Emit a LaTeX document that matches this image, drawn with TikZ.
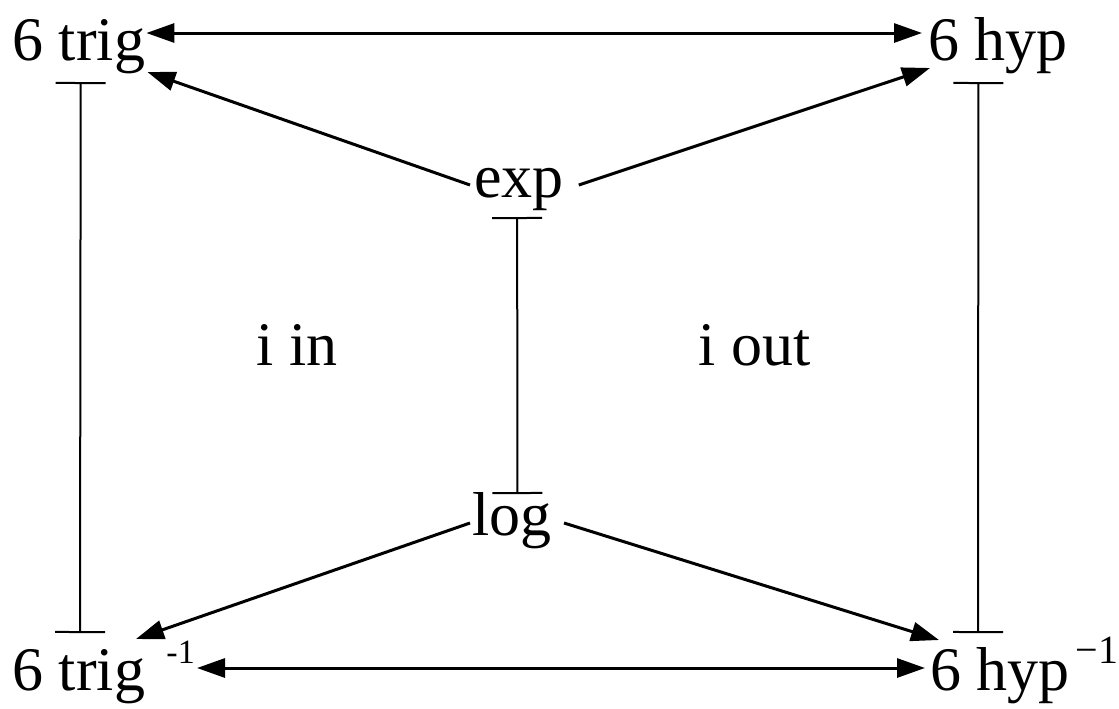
\documentclass[tikz,border=0pt]{standalone}
\usepackage{fontspec}
\setmainfont{Liberation Serif}
\usepackage{tikz}
\usetikzlibrary{arrows.meta, calc}

\newcommand{\upidx}[2]{\raisebox{13.5pt}{\fontsize{#1}{#1}\selectfont #2}}

\begin{document}
\begin{tikzpicture}[
  x=0.5pt, y=-0.5pt,
  lbl/.style={inner sep=0pt, anchor=base west, font=\fontsize{31}{36}\selectfont},
  arr/.style={-{Triangle[length=14pt, width=9.5pt]}, line width=1.5pt},
  dblarr/.style={{Triangle[length=14pt, width=9.5pt]}-{Triangle[length=14pt, width=9.5pt]}, line width=1.5pt},
  inv/.style={{Bar[width=25pt]}-{Bar[width=25pt]}, line width=1pt},
]
  \useasboundingbox (0,0) rectangle (1119,708);

  % Corner and centre labels
  \node[lbl] (trig)  at (12,60)   {6 trig};
  \node[lbl] (hyp)   at (928,60)  {6 hyp};
  \node[lbl] (exp)   at (474,197) {exp};
  \node[lbl] (log)   at (472,535) {log};
  \node[lbl] (itrig) at (12,690)  {6 trig \hspace{3pt}\upidx{17}{-1}};
  \node[lbl] (ihyp)  at (930,690) {6 hyp\hspace{3pt}\upidx{20}{−1}};

  % Region labels
  \node[lbl] (iin)  at (256,365) {i in};
  \node[lbl] (iout) at (698,365) {i out};

  % Horizontal links
  \draw[dblarr] ($(trig.base east)+(1,-27)$) -- ($(hyp.base west)+(-6,-27)$);
  \draw[dblarr] ($(itrig.base west)+(185,-22)$) -- ($(ihyp.base west)+(-5,-22)$);

  % From exp and log
  \draw[arr] ($(exp.base west)+(-4,-12)$) -- ($(trig.base east)+(2,12)$);
  \draw[arr] ($(exp.base east)+(14.5,-12)$) -- ($(hyp.base west)+(2,8)$);
  \draw[arr] ($(log.base west)+(-2,-12)$) -- ($(itrig.base west)+(124,-51)$);
  \draw[arr] ($(log.base east)+(12,-12)$) -- ($(ihyp.base west)+(9,-50)$);

  % Inverses
  \draw[inv] ($(trig.base)+(2,22)$) -- ($(itrig.base west)+(68,-57)$);
  \draw[inv] ($(hyp.base)+(-19.75,22)$) -- ($(ihyp.base west)+(48,-57)$);
  \draw[inv] ($(exp.base)+(-2,20)$) -- ($(log.base)+(5.4,-41)$);

\end{tikzpicture}
\end{document}
